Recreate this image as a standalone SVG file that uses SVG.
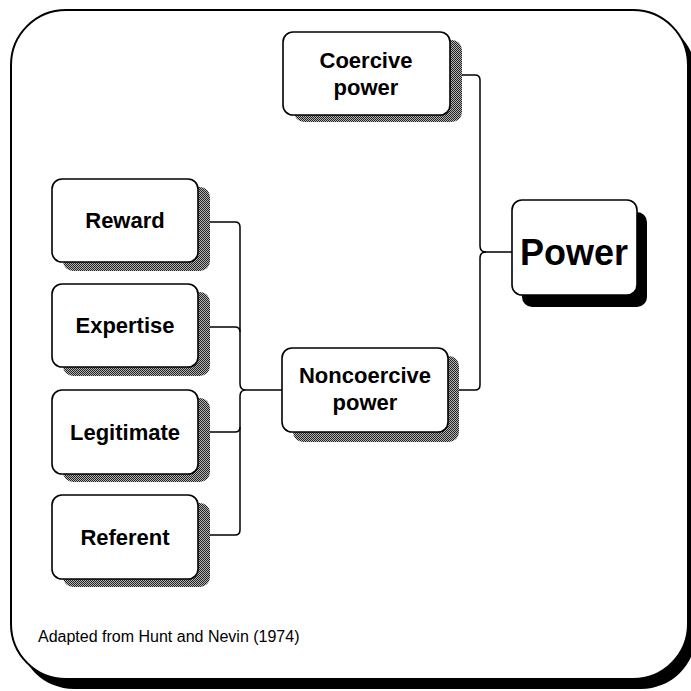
<svg xmlns="http://www.w3.org/2000/svg" width="691" height="691" viewBox="0 0 691 691">
<style>
.box{fill:#fff;stroke:#000;stroke-width:1.6}
.sh{fill:url(#dots)}
.lbl{font-family:"Liberation Sans",Arial,sans-serif;font-weight:bold;font-size:22px;fill:#000;text-anchor:middle}
.con{fill:none;stroke:#000;stroke-width:1.5}
</style>
<defs>
<pattern id="dots" width="2" height="2" patternUnits="userSpaceOnUse">
<rect width="2" height="2" fill="#b4b4b4"/>
<rect x="0" y="0" width="1" height="1" fill="#222"/>
<rect x="1" y="1" width="1" height="1" fill="#222"/>
</pattern>
</defs>
<rect width="691" height="691" fill="#fff"/>
<g id="frame">
<rect x="19" y="20" width="677" height="669" rx="55" fill="#000"/>
<rect x="11" y="10" width="677" height="669" rx="55" fill="#fff" stroke="#000" stroke-width="2"/>
</g>
<g id="connectors">
<path class="con" d="M198,222 H235 Q240,222 240,227 V384 Q240,390 246,390 Q240,390 240,396 V530 Q240,535 235,535 H198"/>
<path class="con" d="M198,327 H235 Q240,327 240,332"/>
<path class="con" d="M198,432 H235 Q240,432 240,427"/>
<path class="con" d="M246,390 H282"/>
<path class="con" d="M450,75 H475 Q480,75 480,80 V246 Q480,252 486,252 H512"/>
<path class="con" d="M486,252 Q480,252 480,258 V385 Q480,390 475,390 H448"/>
</g>
<g id="coercive">
<rect class="sh" x="294" y="40" width="168" height="82" rx="10"/>
<rect class="box" x="283" y="32" width="167" height="83" rx="10"/>
<text class="lbl" x="366" y="68">Coercive</text>
<text class="lbl" x="366" y="95">power</text>
</g>
<g id="power">
<rect x="522" y="212" width="125" height="95" rx="10" fill="#000"/>
<rect class="box" x="512" y="200" width="125" height="95" rx="10"/>
<text class="lbl" x="574" y="265" style="font-size:36px">Power</text>
</g>
<g id="reward">
<rect class="sh" x="63" y="187" width="147" height="84" rx="10"/>
<rect class="box" x="52" y="179" width="146" height="83" rx="10"/>
<text class="lbl" x="125" y="228">Reward</text>
</g>
<g id="expertise">
<rect class="sh" x="63" y="292" width="147" height="84" rx="10"/>
<rect class="box" x="52" y="284" width="146" height="83" rx="10"/>
<text class="lbl" x="125" y="333">Expertise</text>
</g>
<g id="legitimate">
<rect class="sh" x="63" y="398" width="147" height="84" rx="10"/>
<rect class="box" x="52" y="390" width="146" height="84" rx="10"/>
<text class="lbl" x="125" y="440">Legitimate</text>
</g>
<g id="referent">
<rect class="sh" x="63" y="503" width="147" height="84" rx="10"/>
<rect class="box" x="52" y="495" width="146" height="84" rx="10"/>
<text class="lbl" x="125" y="545">Referent</text>
</g>
<g id="noncoercive">
<rect class="sh" x="293" y="356" width="166" height="86" rx="10"/>
<rect class="box" x="282" y="348" width="166" height="84" rx="10"/>
<text class="lbl" x="365" y="383">Noncoercive</text>
<text class="lbl" x="365" y="410">power</text>
</g>
<text x="38" y="642" font-family="Liberation Sans, Arial, sans-serif" font-size="16" fill="#000">Adapted from Hunt and Nevin (1974)</text>
</svg>
